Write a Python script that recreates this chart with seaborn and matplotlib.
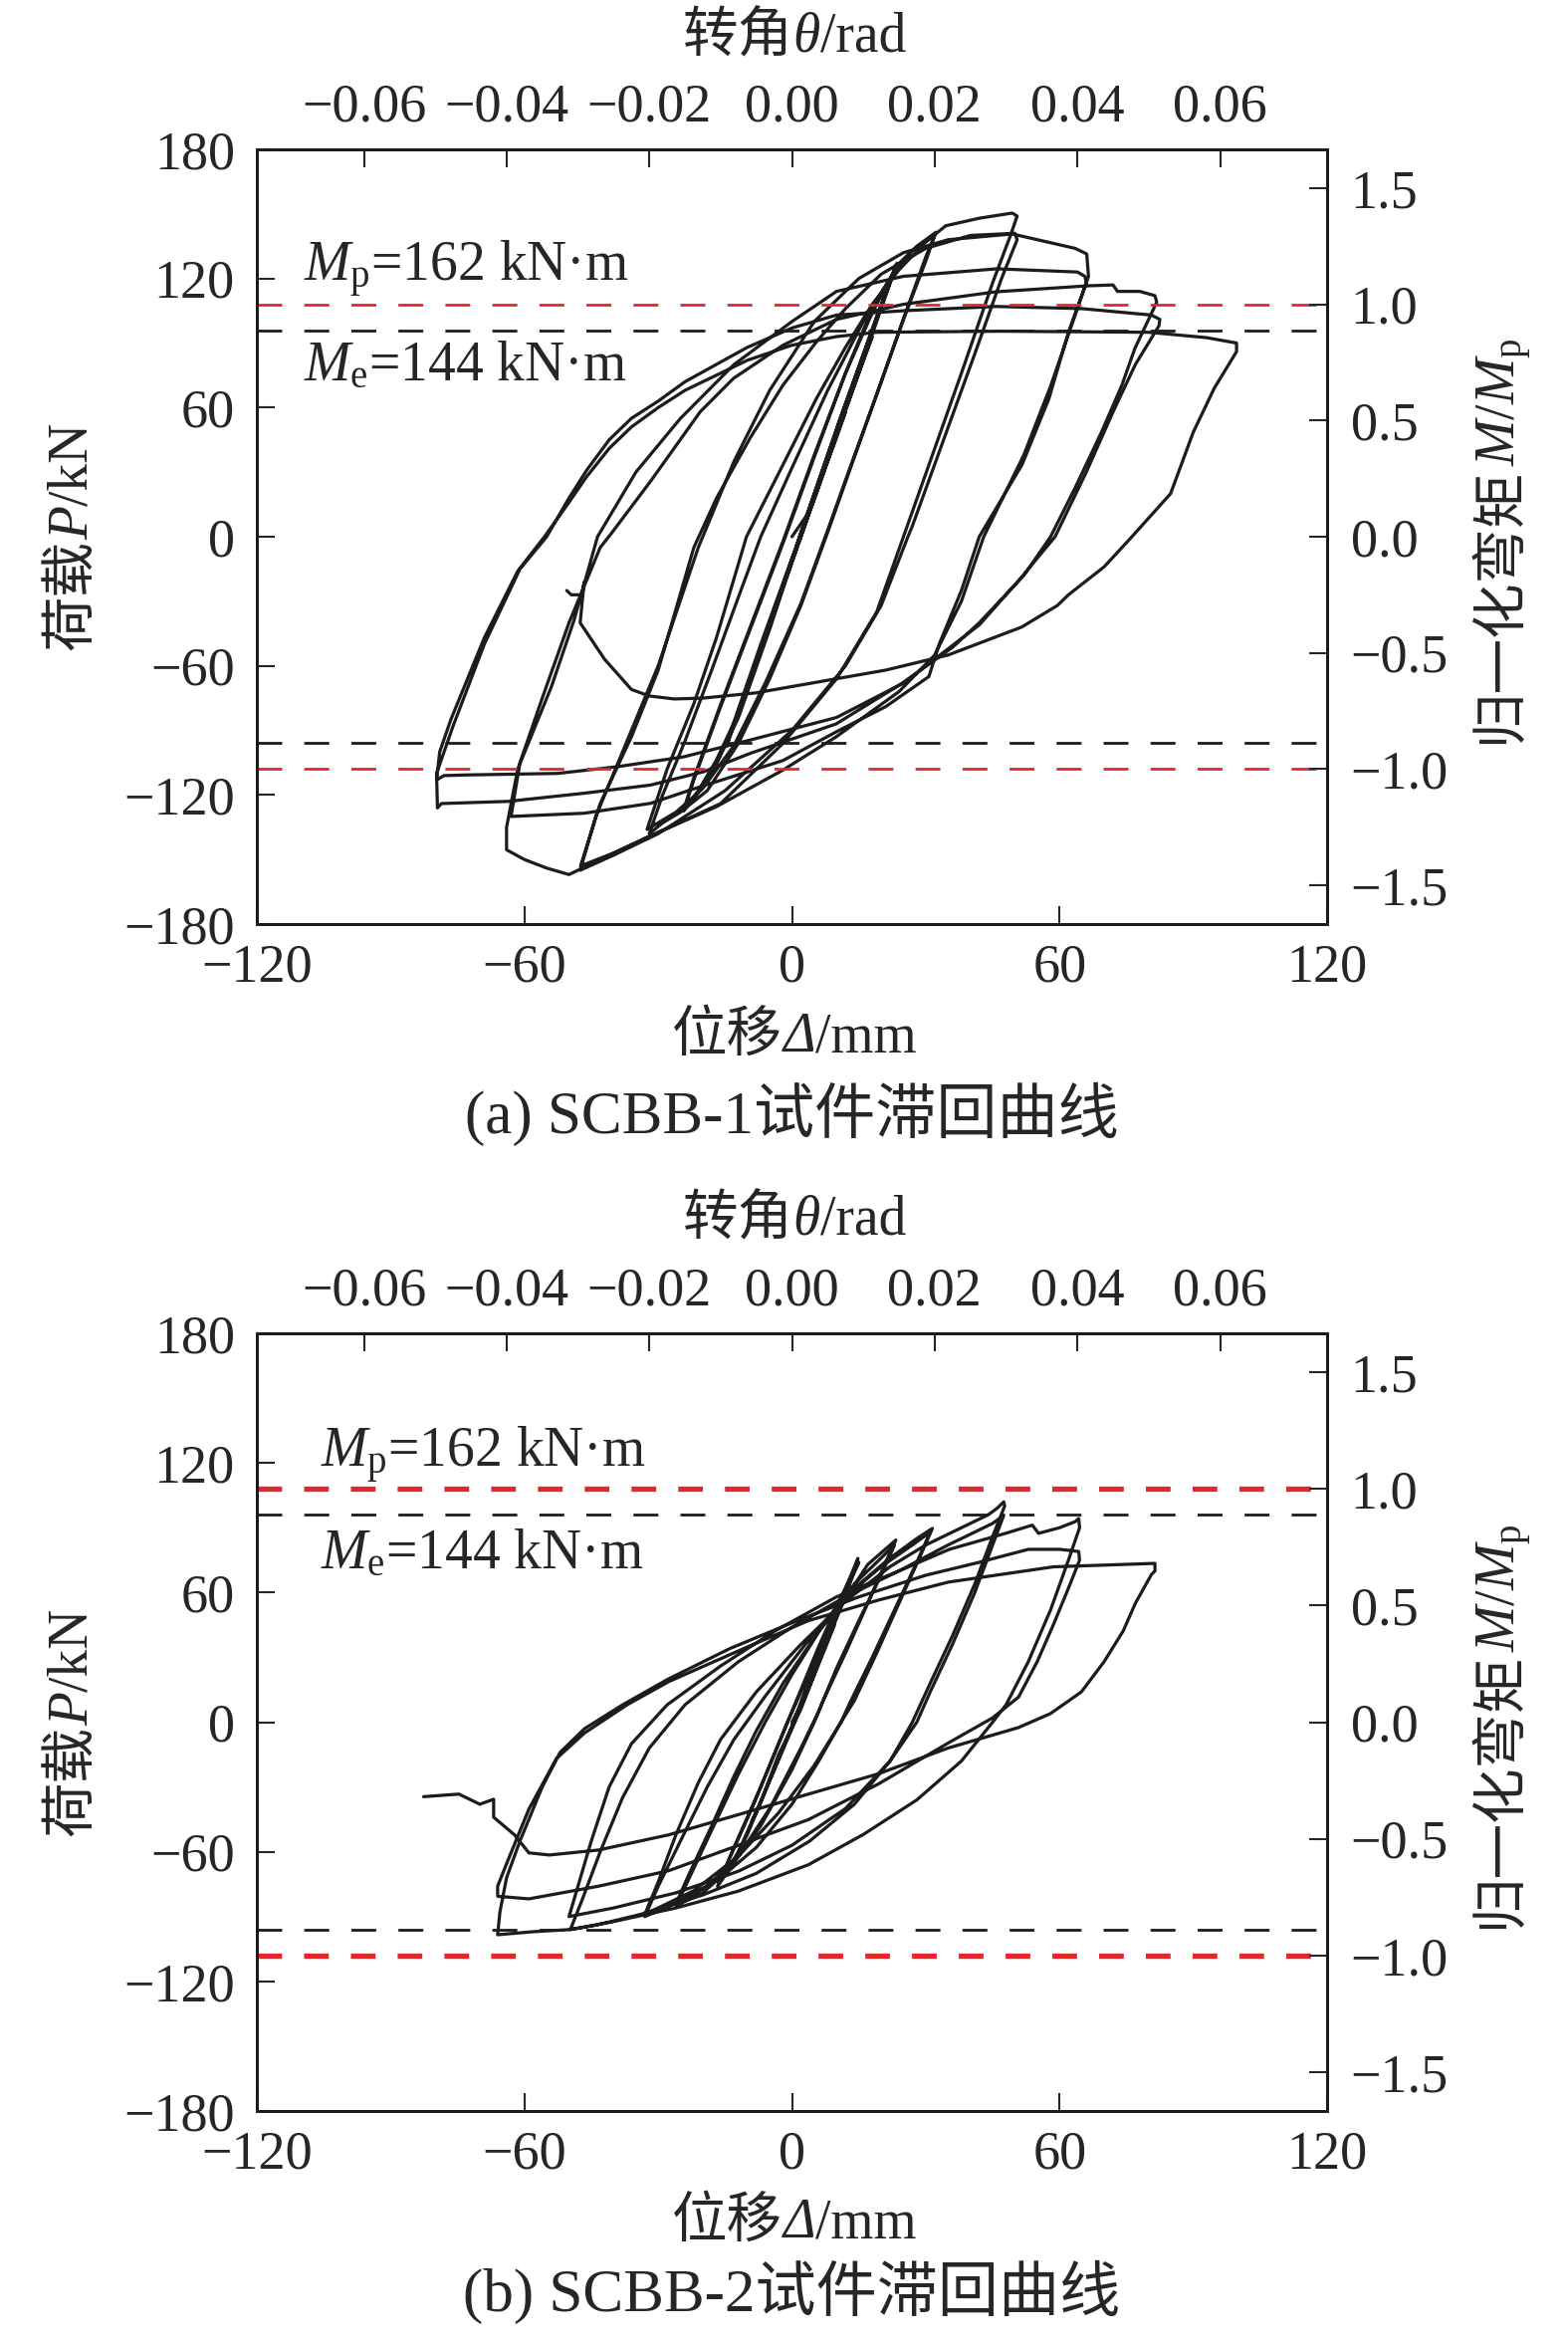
import matplotlib
matplotlib.use('Agg')
import matplotlib.pyplot as plt
from matplotlib.transforms import offset_copy
import pandas as pd
import seaborn as sns

# ---- data: (displacement mm, load kN) ----
# panel (a) SCBB-1, cycles in loading order
a_elastic = [(0, 0), (4, 12), (7, 30), (6, 24), (3, 6), (0, -12), (-3, -29), (-2, -23), (1, -5),
             (6, 23), (10, 47), (12, 58), (10, 46), (6, 24), (2, 1), (-3, -28), (-7, -52), (-8, -58), (-6, -46), (-2, -23),
             (4, 12), (10, 47), (16, 82), (18, 93), (15, 76), (8, 36), (0, -11), (-6, -47), (-11, -76), (-12, -81), (-10, -69), (-4, -34),
             (2, 0), (10, 47), (18, 94), (23.3, 126), (20, 107), (12, 61), (4, 13), (-4, -34), (-10, -69), (-14.6, -97), (-13, -87), (-6, -46),
             (2, 0), (10, 48), (18, 95), (23.5, 127), (19, 102), (11, 56), (3, 8), (-5, -41), (-11, -75), (-14.6, -96)]
a_c24 = [(-13, -86), (-7, -50), (0, -10), (2, 0), (10, 48), (18, 96), (23.3, 126), (19, 102), (11, 56), (3, 8), (-5, -42), (-12, -82),
         (-17, -104), (-21, -118), (-24.3, -127),
         (-22, -112), (-16, -78), (-9, -40), (-2, -2), (5, 38), (12, 76), (18, 104), (23.3, 125), (19, 101), (11, 55), (3, 7), (-5, -43),
         (-12, -84), (-17, -106), (-21, -119), (-24.3, -127.5)]
a_c32 = [(-22, -113), (-16, -79), (-9, -41), (-2, -3), (5, 37), (12, 76), (18, 106), (24, 127), (28, 135), (32.3, 141.5),
         (30, 130), (26, 107), (20, 72), (14, 37), (8, 2), (2, -32), (-5, -66), (-12, -96), (-19, -118), (-25, -128), (-29, -133), (-32, -138),
         (-29, -120), (-24, -95), (-18, -62), (-12, -28), (-7, 0), (0, 32), (8, 68), (16, 100), (22, 120), (27, 133), (32, 140),
         (30, 128), (25, 101), (19, 66), (13, 32), (8, 3), (2, -31), (-6, -68), (-13, -97), (-20, -117), (-26, -128), (-32.5, -136)]
a_c48 = [(-28, -108), (-22, -77.6), (-16.9, -46.7), (-10.2, 0), (-2, 33.5), (5.5, 64.3), (12, 88), (18, 108), (24, 124), (30, 137),
         (34.5, 144.5), (42, 148), (49.4, 150.4), (50.5, 149),
         (49, 140), (45, 118), (38, 76), (31, 35), (25, 0), (19, -35), (10, -66), (-2, -96), (-16, -124), (-31.7, -139), (-40, -147), (-47.4, -153),
         (-43, -124), (-36, -93), (-30, -62), (-22, -5), (-16.9, 18), (-9.4, 45.8), (-2, 70.5), (5.5, 90.6), (12, 106), (20, 122), (30, 134),
         (40, 140), (50, 141), (50.5, 138),
         (47, 120), (41, 85), (34, 45), (27, 5), (26, 0), (20, -32), (12, -60), (0, -90), (-15, -118), (-30, -138), (-40, -148), (-47.5, -155)]
a_c64 = [(-44, -130), (-37, -95), (-30, -60), (-21, -5), (-13, 35), (-5, 68), (5, 100), (15, 120), (25, 132), (35, 138), (49.4, 140.7),
         (63.5, 134), (66.1, 131.4), (66.5, 121),
         (63, 100), (58, 70), (52, 38), (43, 0), (38, -30), (32, -55), (24, -72), (9.9, -93), (-2, -108.4), (-16.9, -125.4), (-31.7, -139),
         (-44, -151), (-50, -157), (-55, -154), (-60, -150), (-64, -145.5),
         (-64, -135), (-61.5, -108), (-54, -70), (-48.9, -39), (-43.6, 0), (-35, 30), (-25, 55), (-13, 80), (0, 100), (10, 114), (25, 121),
         (46, 124.5), (64, 123), (65.7, 121), (66, 118),
         (62, 95), (57.6, 64), (51.6, 33.5), (42, 0), (38, -25), (33, -50), (30.7, -65), (21, -79), (9.9, -90.7), (-2, -104), (-22.8, -117.7),
         (-31.7, -123.9), (-46.6, -128.5), (-63, -130)]
a_c80 = [(-61, -105), (-56, -75), (-50, -40), (-43, -5), (-40.7, 1), (-31.7, 25.8), (-20.6, 58), (-13.1, 73.6), (-2, 89), (10, 101),
         (25, 108), (45.7, 113.8), (66.4, 116.6), (72, 117), (73, 114), (78, 114), (81.4, 112), (81.8, 109),
         (76.9, 87.5), (74, 70.5), (69.5, 49), (63.5, 22.7), (58, 0), (52, -18), (42, -40), (36, -51.4), (24.8, -68), (9.9, -87), (-9.4, -100.7),
         (-19.8, -109.2), (-31.7, -115.4), (-46.6, -119.2), (-63.7, -123), (-78.6, -124), (-79.5, -126),
         (-79.7, -110), (-76, -88), (-69, -50), (-61, -15), (-55, 0), (-50, 18), (-46, 31), (-41, 45), (-36, 55), (-30, 63), (-24, 72), (-10, 88),
         (0, 97), (10, 103), (25, 105), (45.7, 107), (65, 106), (80.6, 103), (82.5, 101), (82.3, 98),
         (77, 80), (72, 58), (66, 30), (59, 0), (51, -20), (42, -41), (25, -68), (10, -84), (-9.4, -94.5), (-24.3, -102.3), (-39.2, -106.9),
         (-52.6, -110), (-61.5, -110.3), (-72.7, -110.7), (-78, -111), (-79.7, -113)]
a_c96 = [(-79, -100), (-76.5, -85), (-69, -47), (-61.5, -16), (-55.5, 0), (-50, 16), (-46, 28), (-41, 41), (-36, 51), (-30, 60), (-24, 68),
         (-10, 82), (0, 89), (10, 93), (19, 95), (47, 95.5), (80, 95), (93, 92.5), (99.7, 90), (99.7, 86),
         (94.7, 69), (90, 48.6), (84.9, 20), (75.8, -1), (70, -14), (62, -27), (59.5, -32), (51.5, -42), (35, -55), (21, -62), (10, -66),
         (-8.2, -72.6), (-20, -75), (-26.4, -75.4), (-32, -74), (-36, -71), (-42, -57), (-47.5, -40), (-46.6, -21), (-47, -27), (-49.5, -27),
         (-50.5, -25)]

# panel (b) SCBB-2
b_elastic = [(0, 0), (3, 12), (5, 22), (4, 17), (1, 2), (-2, -12), (-4, -22), (-3, -17), (0, -2),
             (4, 17), (8, 38), (9.5, 45), (8, 37), (4, 17), (0, -3), (-5, -27), (-8, -42), (-9, -46), (-7, -37), (-3, -15),
             (2, 6), (8, 38), (12, 58), (14.8, 75.8), (12, 62), (7, 35), (2, 8), (-4, -22), (-10, -52), (-14, -68), (-16.7, -76),
             (-14, -63), (-9, -40), (-4, -15), (1, 10), (6, 35), (11, 58), (15, 74), (12, 60), (6, 32), (0, -2), (-6, -32), (-12, -60), (-16.5, -75)]
b_c23 = [(-13, -58), (-7, -30), (-1, 0), (5, 28), (11, 54), (17, 73), (23.3, 84.3),
         (21, 74), (17, 55), (12, 32), (7, 10), (5, 0), (0, -22), (-7, -48), (-14, -68), (-20, -79), (-26, -85),
         (-23, -72), (-18, -50), (-12, -24), (-6, 0), (0, 22), (7, 45), (14, 64), (20, 76), (23, 82),
         (20, 68), (15, 47), (10, 25), (6, 5), (2, -12), (-5, -40), (-12, -62), (-19, -76), (-26, -84)]
b_c31 = [(-23, -70), (-18, -48), (-13, -25), (-8, -4), (-2, 18), (6, 42), (14, 62), (22, 76), (28, 85), (31.5, 89.7),
         (29, 78), (24, 55), (19, 32), (14, 10), (11, 0), (6, -18), (0, -38), (-8, -58), (-16, -72), (-25, -83), (-33, -90),
         (-30, -76), (-25, -55), (-19, -30), (-13, -8), (-6, 12), (3, 36), (12, 58), (20, 72), (27, 82), (31, 88),
         (28, 74), (23, 52), (18, 30), (13, 9), (11, 0), (5, -20), (-3, -42), (-12, -62), (-22, -78), (-33, -89)]
b_c47 = [(-30, -74), (-26, -52), (-21, -28), (-16, -8), (-8, 14), (2, 36), (12, 56), (22, 72), (30, 82), (38, 90), (44, 96), (46, 99),
         (47.5, 102), (47.7, 100),
         (45, 86), (41, 64), (36, 40), (31, 18), (27, 0), (22, -18), (14, -38), (4, -55), (-8, -70), (-20, -80), (-34, -89), (-44, -94), (-49.7, -96),
         (-47, -82), (-43, -60), (-38, -35), (-32, -12), (-24, 8), (-12, 28), (0, 44), (12, 58), (24, 70), (35, 82), (42, 89), (45, 92), (47.5, 95.8),
         (45, 82), (41, 60), (36, 36), (31, 14), (28, 0), (22, -18), (12, -40), (0, -57), (-12, -69), (-26, -79), (-40, -86), (-50, -90)]
b_c64 = [(-48, -76), (-45, -55), (-41, -30), (-36, -10), (-28, 8), (-16, 26), (-4, 42), (10, 58), (24, 70), (35.3, 80), (47.9, 87.4),
         (53.9, 91.2), (55.3, 87.4), (60, 90), (63.5, 92.8), (64.3, 94.3), (64.5, 90),
         (62, 75), (58, 52), (53, 28), (48, 8), (45, 0), (38, -18), (28, -36), (16, -52), (3.7, -66), (-12, -78.2), (-26, -86), (-40.2, -92.4),
         (-49.7, -96), (-58, -97), (-66, -98.4),
         (-65.5, -88), (-64, -72), (-61, -55), (-56, -30), (-52, -14), (-46.5, -3), (-38, 8), (-27.7, 20), (-14, 34), (0, 46), (15, 58), (30, 68),
         (42, 74), (53, 80), (60, 80), (64.3, 79), (64.5, 75),
         (62, 62), (58.6, 45), (55, 28), (50.8, 11.6), (45, 2), (35, -9.7), (19.4, -28.6), (3.7, -45.1), (-12, -57), (-27.7, -68.8),
         (-43.3, -75.9), (-59, -81.8), (-66, -80.6)]
b_c80 = [(-66, -75.9), (-63.7, -64), (-59, -40.3), (-52.8, -16.8), (-46.5, -5), (-37, 8), (-27.7, 18.7), (-12, 33), (3.7, 47), (19.4, 56.5),
         (35, 64.8), (58.6, 71.9), (81.4, 73.5), (81.4, 70),
         (80.6, 68.3), (77, 55), (74.3, 42.3), (70, 28), (64.9, 14), (58, 4), (50.8, -2.5), (35, -12), (19.4, -23.9), (3.7, -33.3), (-12, -42.8),
         (-27.7, -52.2), (-43.4, -59.2), (-54.4, -61.5), (-59, -60.5), (-62.2, -52.2), (-66.9, -44), (-66.9, -35.7), (-70, -38), (-74.7, -33.3),
         (-82.6, -34.5)]

x_ticks = [-120, -60, 0, 60, 120]
y_ticks = [-180, -120, -60, 0, 60, 120, 180]
theta_ticks = [-0.06, -0.04, -0.02, 0.00, 0.02, 0.04, 0.06]
m_ticks = [-1.5, -1.0, -0.5, 0.0, 0.5, 1.0, 1.5]
P_MP = 108   # kN, Mp = 162 kN·m
P_ME = 96    # kN, Me = 144 kN·m
L_ROT = 1600  # mm, displacement -> rotation
captions = ['(a) SCBB-1试件滞回曲线', '(b) SCBB-2试件滞回曲线']

sns.set_style('white')
plt.rcParams['font.family'] = ['Liberation Serif', 'Noto Sans CJK SC']
plt.rcParams['mathtext.fontset'] = 'custom'
plt.rcParams['mathtext.rm'] = 'Liberation Serif'
plt.rcParams['mathtext.it'] = 'Liberation Serif:italic'
plt.rcParams['axes.unicode_minus'] = True

W, H = 1575, 2354
fig = plt.figure(figsize=(W / 100, H / 100), dpi=100)
CJK = dict(family='Noto Sans CJK SC')
SER = dict(family='Liberation Serif')
ITA = dict(family='Liberation Serif', style='italic')


def minus(s):
    return s.replace('-', '\u2212')


def label_row(xpx, ypx, pieces, size, rot=0):
    # mixed-font label, centred along its run; (xpx, ypx) is the baseline point
    r = fig.canvas.get_renderer()
    lens = []
    for s, props in pieces:
        t = fig.text(0, 0, s, fontsize=size, **props)
        lens.append(t.get_window_extent(r).width)
        t.remove()
    pos = -sum(lens) / 2
    for (s, props), w in zip(pieces, lens):
        dx, dy = (pos, 0) if rot == 0 else (0, pos)
        tr = offset_copy(fig.transFigure, fig=fig, x=dx, y=dy, units='dots')
        fig.text(xpx / W, 1 - ypx / H, s, transform=tr, fontsize=size, rotation=rot,
                 rotation_mode='anchor', ha='left', va='baseline', **props)
        pos += w


def panel(top_px, bot_px, cycles, red_lw, red_dash, txt_x, mp_y, me_y, caption, title_y, xlab_y, cap_y):
    ax = fig.add_axes([258 / W, 1 - bot_px / H, 1075 / W, (bot_px - top_px) / H])
    pts = [p for c in cycles for p in c]
    df = pd.DataFrame(pts, columns=['disp', 'load'])
    sns.lineplot(data=df, x='disp', y='load', sort=False, estimator=None,
                 color='#1c1c1c', lw=2.3, ax=ax)
    ax.axhline(P_MP, color='#e0282e', lw=red_lw, ls=(0, red_dash))
    ax.axhline(-P_MP, color='#e0282e', lw=red_lw, ls=(0, red_dash))
    ax.axhline(P_ME, color='#1c1c1c', lw=2.0, ls=(0, (9, 8)))
    ax.axhline(-P_ME, color='#1c1c1c', lw=2.0, ls=(0, (9, 8)))
    ax.set_xlim(-120, 120)
    ax.set_ylim(-180, 180)
    ax.set_xticks(x_ticks)
    ax.set_xticklabels([minus(str(v)) for v in x_ticks])
    ax.set_yticks(y_ticks)
    ax.set_yticklabels([minus(str(v)) for v in y_ticks])
    ax.set_xlabel('')
    ax.set_ylabel('')
    ax.tick_params(axis='x', direction='in', length=13, width=1.5, labelsize=39, pad=14)
    ax.tick_params(axis='y', direction='in', length=13, width=1.5, labelsize=39, pad=16)

    axr = ax.twinx()
    axr.set_ylim(-180 / P_MP, 180 / P_MP)
    axr.set_yticks(m_ticks)
    axr.set_yticklabels([minus(f'{v:.1f}') for v in m_ticks])
    axr.tick_params(axis='y', direction='in', length=13, width=1.5, labelsize=39, pad=17)

    axt = ax.twiny()
    axt.set_xlim(-120 / L_ROT, 120 / L_ROT)
    axt.set_xticks(theta_ticks)
    axt.set_xticklabels([minus(f'{v:.2f}') for v in theta_ticks])
    axt.tick_params(axis='x', direction='in', length=13, width=1.5, labelsize=39, pad=12)

    for a in (ax, axr, axt):
        for s in a.spines.values():
            s.set_linewidth(2.0)
            s.set_color('#1c1c1c')

    ax.text(txt_x, mp_y, r'$M_\mathrm{p}$=162 kN·m', fontsize=40, ha='left', va='baseline')
    ax.text(txt_x, me_y, r'$M_\mathrm{e}$=144 kN·m', fontsize=40, ha='left', va='baseline')

    mid = (top_px + bot_px) / 2
    label_row(798, title_y, [('转角', CJK), ('θ', ITA), ('/rad', SER)], 40)
    label_row(798, xlab_y, [('位移', CJK), ('Δ', ITA), ('/mm', SER)], 40)
    fig.text(795 / W, 1 - cap_y / H, caption, fontsize=44, ha='center', va='center')
    label_row(88, mid, [('荷载', CJK), ('P', ITA), ('/kN', SER)], 40, rot=90)
    label_row(1522, mid + 4, [('归一化弯矩', CJK), (r'$M/M_\mathrm{p}$', SER)], 40, rot=90)


panel(150, 928, [a_elastic, a_c24, a_c32, a_c48, a_c64, a_c80, a_c96], 2.0, (9, 8),
      -109.5, 119, 72.4, captions[0], 52, 1056, 1119)
panel(1339, 2120, [b_elastic, b_c23, b_c31, b_c47, b_c64, b_c80], 3.8, (4.7, 4.2),
      -105.6, 118.3, 71.2, captions[1], 1240, 2247, 2302)

fig.savefig('out.png', dpi=100)
